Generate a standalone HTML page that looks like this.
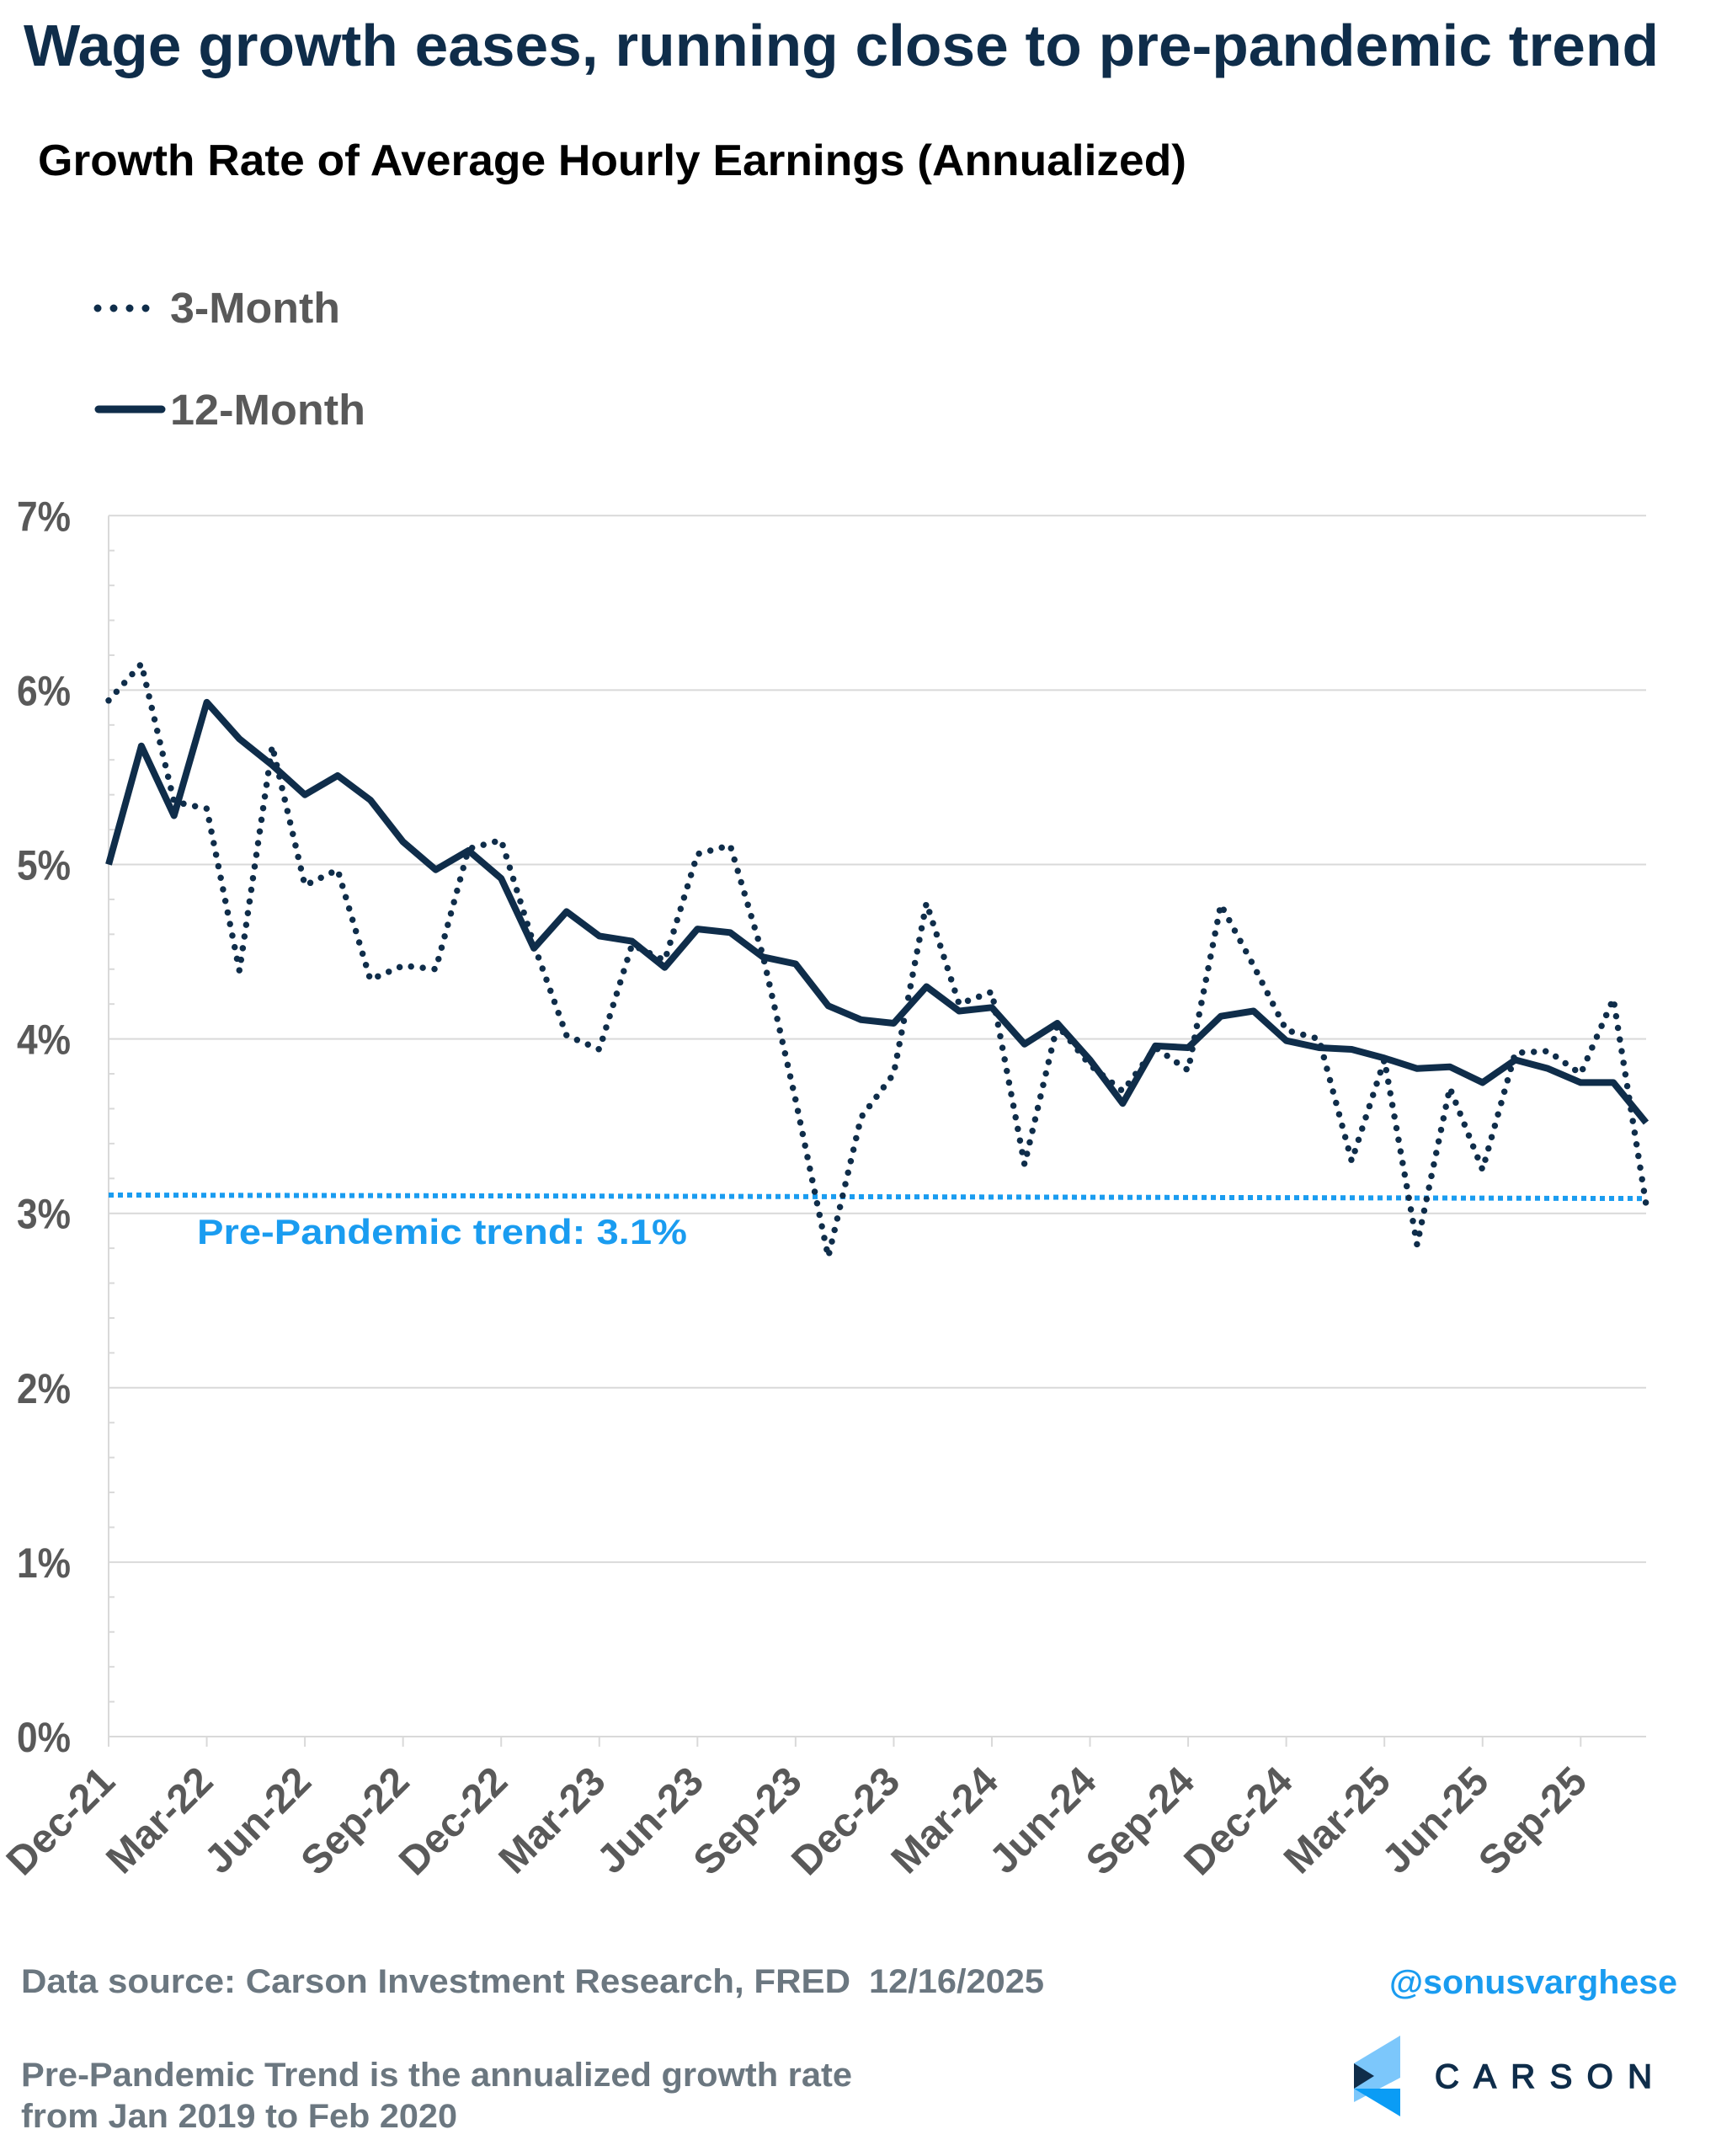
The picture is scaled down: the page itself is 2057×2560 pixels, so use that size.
<!DOCTYPE html>
<html><head><meta charset="utf-8"><style>html,body{margin:0;padding:0;background:#fff}svg{display:block}</style></head>
<body>
<svg id="s" width="2057" height="2560" viewBox="0 0 2057 2560" xmlns="http://www.w3.org/2000/svg" font-family="Liberation Sans, Arial, sans-serif" font-weight="bold">
<rect width="2057" height="2560" fill="#fff"/>
<text x="28" y="78" font-size="70" fill="#0f2d4a" textLength="1942" lengthAdjust="spacingAndGlyphs">Wage growth eases, running close to pre-pandemic trend</text>
<text x="45" y="208" font-size="52" fill="#000" textLength="1364" lengthAdjust="spacingAndGlyphs">Growth Rate of Average Hourly Earnings (Annualized)</text>
<line x1="116" y1="366" x2="192" y2="366" stroke="#0f2d4a" stroke-width="9" stroke-linecap="round" stroke-dasharray="0 19"/>
<text x="202" y="383" font-size="51" fill="#595959" textLength="202" lengthAdjust="spacingAndGlyphs">3-Month</text>
<line x1="117" y1="486" x2="192" y2="486" stroke="#0f2d4a" stroke-width="9" stroke-linecap="round"/>
<text x="202" y="504" font-size="51" fill="#595959" textLength="232" lengthAdjust="spacingAndGlyphs">12-Month</text>
<g id="grid"></g>
<g id="plot"></g>
<text x="234" y="1477" font-size="42" fill="#1a9cf0" textLength="582" lengthAdjust="spacingAndGlyphs">Pre-Pandemic trend: 3.1%</text>
<text x="25" y="2366" font-size="40" fill="#6b7780" textLength="985" lengthAdjust="spacingAndGlyphs">Data source: Carson Investment Research, FRED</text>
<text x="1032" y="2366" font-size="40" fill="#6b7780" textLength="208" lengthAdjust="spacingAndGlyphs">12/16/2025</text>
<text x="1650" y="2367" font-size="40" fill="#1a9cf0" textLength="342" lengthAdjust="spacingAndGlyphs">@sonusvarghese</text>
<text x="25" y="2477" font-size="40" fill="#6b7780" textLength="987" lengthAdjust="spacingAndGlyphs">Pre-Pandemic Trend is the annualized growth rate</text>
<text x="25" y="2526" font-size="40" fill="#6b7780" textLength="518" lengthAdjust="spacingAndGlyphs">from Jan 2019 to Feb 2020</text>
<polygon points="1608,2450 1663,2417 1663,2467 1608,2496" fill="#7cc7fb"/>
<polygon points="1608,2480 1663,2480 1663,2513 1608,2480" fill="#0a9cf5"/>
<polygon points="1608,2450 1632,2465 1608,2480" fill="#0f2d4a"/>
<text x="1704" y="2479" font-size="40" font-weight="normal" fill="#0f2d4a" stroke="#0f2d4a" stroke-width="1.5" textLength="258" lengthAdjust="spacing">CARSON</text>
</svg>
<script>
var ns="http://www.w3.org/2000/svg";
function el(p,t,a,txt){var e=document.createElementNS(ns,t);for(var k in a)e.setAttribute(k,a[k]);if(txt)e.textContent=txt;p.appendChild(e);return e;}
var X0=129,XE=1955,DX=(XE-X0)/47,Y0=2062,DY=207.1;
function X(i){return X0+i*DX}function Y(v){return Y0-v*DY}
var g=document.getElementById('grid'),p=document.getElementById('plot');
for(var v=0;v<=7;v++){
 if(v>0)el(g,'line',{x1:X0,x2:XE,y1:Y(v),y2:Y(v),stroke:'#d9d9d9','stroke-width':2});
 el(g,'text',{x:84,y:Y(v)+18,'font-size':50,fill:'#595959','text-anchor':'end',textLength:64,lengthAdjust:'spacingAndGlyphs'},v+'%');
}
for(var m=0.2;m<7;m+=0.2){ if(Math.abs(m-Math.round(m))<0.01)continue; el(g,'line',{x1:X0,x2:X0+7,y1:Y(m),y2:Y(m),stroke:'#d9d9d9','stroke-width':2});}
el(g,'line',{x1:X0,x2:X0,y1:Y(7),y2:Y0,stroke:'#d9d9d9','stroke-width':2});
el(g,'line',{x1:X0,x2:XE,y1:Y0,y2:Y0,stroke:'#d9d9d9','stroke-width':2});
var labs=['Dec-21','Mar-22','Jun-22','Sep-22','Dec-22','Mar-23','Jun-23','Sep-23','Dec-23','Mar-24','Jun-24','Sep-24','Dec-24','Mar-25','Jun-25','Sep-25'];
labs.forEach(function(l,k){var x=X(k*3);
 el(g,'line',{x1:x,x2:x,y1:Y0,y2:Y0+12,stroke:'#d9d9d9','stroke-width':2});
 var ax=x+10, ay=Y0+56;
 el(g,'text',{x:ax,y:ay,'font-size':48,fill:'#595959','text-anchor':'end',transform:'rotate(-45 '+ax+' '+ay+')'},l);
});
var a12=[5.0,5.68,5.28,5.93,5.72,5.57,5.40,5.51,5.37,5.13,4.97,5.08,4.92,4.52,4.73,4.59,4.56,4.41,4.63,4.61,4.47,4.43,4.19,4.11,4.09,4.30,4.16,4.18,3.97,4.09,3.88,3.63,3.96,3.95,4.13,4.16,3.99,3.95,3.94,3.89,3.83,3.84,3.75,3.88,3.83,3.75,3.75,3.52];
var a3=[5.94,6.15,5.36,5.32,4.39,5.68,4.88,4.97,4.34,4.42,4.40,5.09,5.14,4.54,4.02,3.94,4.54,4.45,5.06,5.11,4.48,3.65,2.75,3.55,3.80,4.78,4.20,4.27,3.28,4.08,3.85,3.70,3.95,3.82,4.77,4.42,4.05,4.00,3.30,3.88,2.82,3.72,3.25,3.92,3.93,3.80,4.23,3.05];
function pts(a){return a.map(function(v,i){return X(i).toFixed(1)+','+Y(v).toFixed(1)}).join(' ')}
el(p,'line',{x1:X0,x2:XE,y1:Y(3.105),y2:Y(3.085),stroke:'#1a9cf0','stroke-width':6,'stroke-dasharray':'6 5'});
el(p,'polyline',{points:pts(a3),fill:'none',stroke:'#0f2d4a','stroke-width':7.5,'stroke-dasharray':'0 14','stroke-linecap':'round','stroke-linejoin':'round'});
el(p,'polyline',{points:pts(a12),fill:'none',stroke:'#0f2d4a','stroke-width':8,'stroke-linejoin':'round'});
</script>
</body></html>
